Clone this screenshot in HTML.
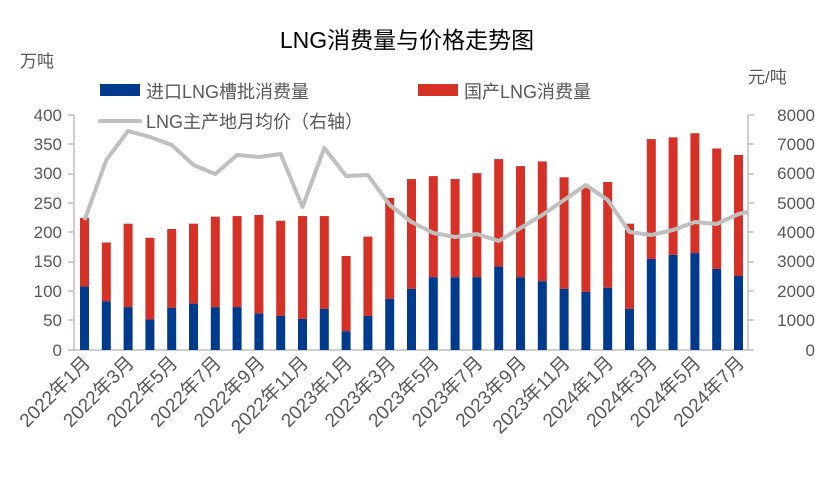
<!DOCTYPE html>
<html><head><meta charset="utf-8"><style>
body{margin:0;background:#fff;}
text{font-family:"Liberation Sans","Noto Sans CJK SC",sans-serif;fill:#595959;}
</style></head><body>
<svg width="815" height="487" viewBox="0 0 815 487" xmlns="http://www.w3.org/2000/svg">
<text x="407" y="48" font-size="23" text-anchor="middle" style="fill:#000">LNG消费量与价格走势图</text>
<text x="20" y="67" font-size="17">万吨</text>
<text x="748" y="83" font-size="17">元/吨</text>
<rect x="100" y="84" width="40" height="12" fill="#003a8c"/>
<text x="146" y="98" font-size="18">进口LNG槽批消费量</text>
<rect x="418" y="84" width="40" height="12" fill="#d63126"/>
<text x="464" y="98" font-size="18">国产LNG消费量</text>
<line x1="100" y1="121" x2="140" y2="121" stroke="#bfbfbf" stroke-width="4" stroke-linecap="round"/>
<text x="146" y="128" font-size="18">LNG主产地月均价（右轴）</text>
<g font-size="17" text-anchor="end">
<text x="62" y="121">400</text><text x="62" y="150">350</text><text x="62" y="179">300</text><text x="62" y="209">250</text><text x="62" y="238">200</text><text x="62" y="267">150</text><text x="62" y="297">100</text><text x="62" y="326">50</text><text x="62" y="356">0</text>
</g>
<g font-size="17" text-anchor="end">
<text x="815" y="121">8000</text><text x="815" y="150">7000</text><text x="815" y="179">6000</text><text x="815" y="209">5000</text><text x="815" y="238">4000</text><text x="815" y="267">3000</text><text x="815" y="297">2000</text><text x="815" y="326">1000</text><text x="815" y="356">0</text>
</g>
<g stroke="#bfbfbf" stroke-width="1.5" fill="none">
<path d="M74 115V350M68 115H74M68 144H74M68 174H74M68 203H74M68 232H74M68 262H74M68 291H74M68 320H74M68 350H74"/>
<path d="M748 115V350M748 115H754M748 144H754M748 174H754M748 203H754M748 232H754M748 262H754M748 291H754M748 320H754M748 350H754"/>
<path d="M74 350H748"/>
</g>
<g id="bars"></g>
<polyline id="line" fill="none" stroke="#bfbfbf" stroke-width="4" stroke-linejoin="round"/>
<g id="xl" font-size="19"></g>
<script>
var tot=[225,183,215,191,206,215,227,228,230,220,228,228,160,193,259,291,296,291,301,325,313,321,294,276,286,215,359,362,369,343,332];
var blu=[108,83,73,52,72,79,73,73,62,58,53,70,32,58,87,104,124,124,124,142,124,117,104,99,106,70,155,162,165,138,126];
var ly=[220,160,131,137,145,165,174,155,157,154,207,148,176,175,205,222,233,237,234,241,228,215,200,185,200,232,235,230,222,224,214];
var ns="http://www.w3.org/2000/svg",b=document.getElementById('bars'),s=0.5875,pts=[];
for(var i=0;i<31;i++){var cx=84.5+21.8*i;
var r=document.createElementNS(ns,'rect');r.setAttribute('x',cx-4.5);r.setAttribute('width',9);r.setAttribute('y',350-tot[i]*s);r.setAttribute('height',(tot[i]-blu[i])*s);r.setAttribute('fill','#d63126');b.appendChild(r);
r=document.createElementNS(ns,'rect');r.setAttribute('x',cx-4.5);r.setAttribute('width',9);r.setAttribute('y',350-blu[i]*s);r.setAttribute('height',blu[i]*s);r.setAttribute('fill','#003a8c');b.appendChild(r);
pts.push(cx+','+ly[i]);}
pts.push('748,212');
document.getElementById('line').setAttribute('points',pts.join(' '));
var labs=['2022年1月','2022年3月','2022年5月','2022年7月','2022年9月','2022年11月','2023年1月','2023年3月','2023年5月','2023年7月','2023年9月','2023年11月','2024年1月','2024年3月','2024年5月','2024年7月'];
var xl=document.getElementById('xl');
for(var j=0;j<16;j++){var cx=84.5+21.8*2*j;var t=document.createElementNS(ns,'text');t.setAttribute('text-anchor','end');t.setAttribute('transform','translate('+(cx+7)+',364) rotate(-45)');t.textContent=labs[j];xl.appendChild(t);}
</script>
</svg>
</body></html>
